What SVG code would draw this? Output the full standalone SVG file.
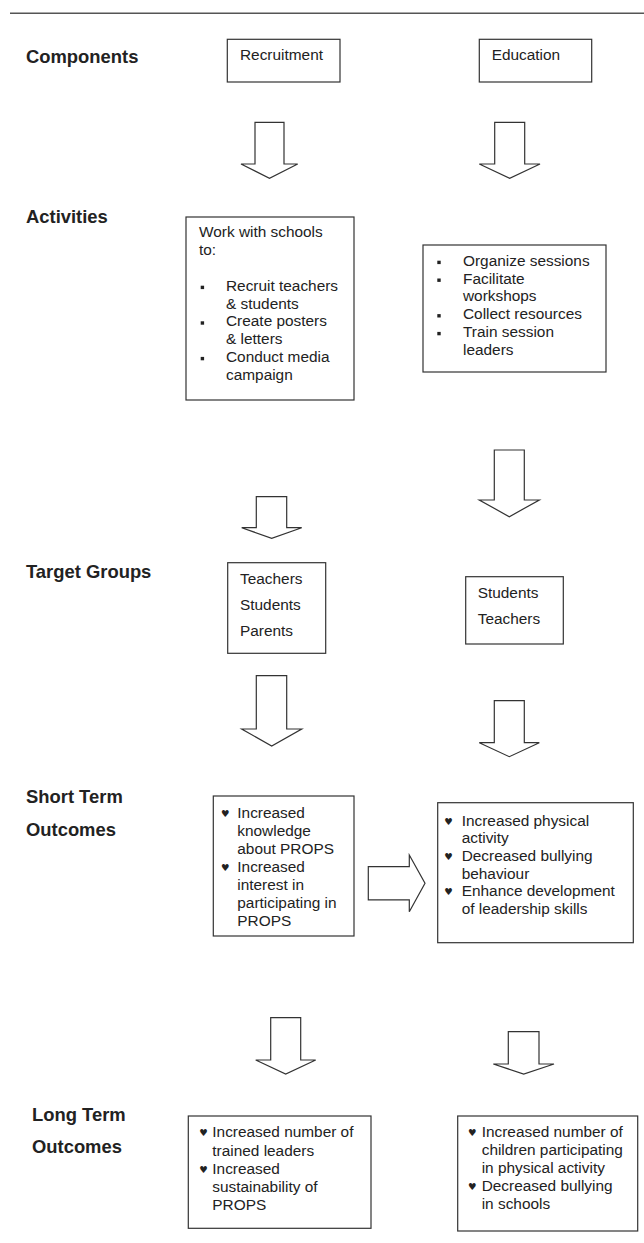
<svg xmlns="http://www.w3.org/2000/svg" width="644" height="1243" viewBox="0 0 644 1243">
<style>
.bg{fill:#fff}
.box{fill:#fff;stroke:#333;stroke-width:1.2}
.arr{fill:#fff;stroke:#333;stroke-width:1.2;stroke-linejoin:miter}
.rule{stroke:#555;stroke-width:1.6}
.lbl{font-family:"Liberation Sans",Arial,sans-serif;font-weight:bold;font-size:18.4px;fill:#222}
.t{font-family:"Liberation Sans",Arial,sans-serif;font-size:15.4px;fill:#222}
.sq{fill:#222}
.hb{font-family:"DejaVu Sans",sans-serif;font-size:9.5px;fill:#222}
</style>
<rect class="bg" x="0" y="0" width="644" height="1243"/>
<line class="rule" x1="10" y1="13.3" x2="644" y2="13.3"/>

<g id="labels">
<text class="lbl" x="26" y="63.3">Components</text>
<text class="lbl" x="26" y="223.3">Activities</text>
<text class="lbl" x="26" y="578.3">Target Groups</text>
<text class="lbl" x="26" y="803.3">Short Term</text>
<text class="lbl" x="26" y="836">Outcomes</text>
<text class="lbl" x="32" y="1120.7">Long Term</text>
<text class="lbl" x="32" y="1152.7">Outcomes</text>
</g>

<g id="connectors">
<polygon class="arr" points="255,122.3 284,122.3 284,164 297.7,164 269.5,178.3 241,164 255,164"/>
<polygon class="arr" points="494.7,122.3 524.7,122.3 524.7,164 540,164 509.7,178.3 479.3,164 494.7,164"/>
<polygon class="arr" points="256.3,496.7 286.7,496.7 286.7,527.7 301.7,527.7 271.7,538.3 241.7,527.7 256.3,527.7"/>
<polygon class="arr" points="494.3,450 524.3,450 524.3,500 539.3,500 509.3,516.7 479.3,500 494.3,500"/>
<polygon class="arr" points="256.3,675.7 286.7,675.7 286.7,729 301.7,729 271.7,746 241.7,729 256.3,729"/>
<polygon class="arr" points="494.3,700.7 524.3,700.7 524.3,742.7 539.3,742.7 509.3,756.7 479.3,742.7 494.3,742.7"/>
<polygon class="arr" points="368.3,866.7 409.3,866.7 409.3,855 425,883.3 409.3,911.7 409.3,899.9 368.3,899.9"/>
<polygon class="arr" points="270.7,1017.7 300.7,1017.7 300.7,1060 315.7,1060 285.7,1074 255.7,1060 270.7,1060"/>
<polygon class="arr" points="508.3,1031.7 539,1031.7 539,1064 554,1064 523.7,1074 493.3,1064 508.3,1064"/>
</g>

<g id="recruitment">
<rect class="box" x="227.3" y="39.3" width="112.7" height="42.7"/>
<text class="t" x="240" y="60">Recruitment</text>
</g>

<g id="education">
<rect class="box" x="479.3" y="39.3" width="112.4" height="42.7"/>
<text class="t" x="491.7" y="60">Education</text>
</g>

<g id="activities-recruitment">
<rect class="box" x="186" y="217" width="168" height="183"/>
<text class="t" x="199" y="236.7">Work with schools</text>
<text class="t" x="199" y="254.7">to:</text>
<rect class="sq" x="200.7" y="285.7" width="3.4" height="3.4"/>
<rect class="sq" x="200.7" y="321.3" width="3.4" height="3.4"/>
<rect class="sq" x="200.7" y="356.9" width="3.4" height="3.4"/>
<text class="t" x="226" y="290.7">Recruit teachers</text>
<text class="t" x="226" y="308.5">&amp; students</text>
<text class="t" x="226" y="326.3">Create posters</text>
<text class="t" x="226" y="344.1">&amp; letters</text>
<text class="t" x="226" y="361.9">Conduct media</text>
<text class="t" x="226" y="379.7">campaign</text>
</g>

<g id="activities-education">
<rect class="box" x="423" y="245" width="183" height="127"/>
<rect class="sq" x="437.3" y="260.7" width="3.4" height="3.4"/>
<rect class="sq" x="437.3" y="278.5" width="3.4" height="3.4"/>
<rect class="sq" x="437.3" y="314.1" width="3.4" height="3.4"/>
<rect class="sq" x="437.3" y="331.9" width="3.4" height="3.4"/>
<text class="t" x="463" y="265.7">Organize sessions</text>
<text class="t" x="463" y="283.5">Facilitate</text>
<text class="t" x="463" y="301.3">workshops</text>
<text class="t" x="463" y="319.1">Collect resources</text>
<text class="t" x="463" y="336.9">Train session</text>
<text class="t" x="463" y="354.7">leaders</text>
</g>

<g id="target-recruitment">
<rect class="box" x="227.7" y="562.7" width="98" height="90.6"/>
<text class="t" x="240" y="584">Teachers</text>
<text class="t" x="240" y="610">Students</text>
<text class="t" x="240" y="636">Parents</text>
</g>

<g id="target-education">
<rect class="box" x="465.7" y="576.7" width="97.6" height="67.3"/>
<text class="t" x="477.7" y="598">Students</text>
<text class="t" x="477.7" y="623.7">Teachers</text>
</g>

<g id="short-recruitment">
<rect class="box" x="213.3" y="796" width="140.7" height="140"/>
<text class="hb" x="221" y="816.7">♥</text>
<text class="hb" x="221" y="870.7">♥</text>
<text class="t" x="237.3" y="817.7">Increased</text>
<text class="t" x="237.3" y="835.7">knowledge</text>
<text class="t" x="237.3" y="853.7">about PROPS</text>
<text class="t" x="237.3" y="871.7">Increased</text>
<text class="t" x="237.3" y="889.7">interest in</text>
<text class="t" x="237.3" y="907.7">participating in</text>
<text class="t" x="237.3" y="925.7">PROPS</text>
</g>

<g id="short-education">
<rect class="box" x="437.7" y="802.7" width="195.6" height="140"/>
<text class="hb" x="444.3" y="824.7">♥</text>
<text class="hb" x="444.3" y="859.9">♥</text>
<text class="hb" x="444.3" y="895.1">♥</text>
<text class="t" x="461.7" y="825.7">Increased physical</text>
<text class="t" x="461.7" y="843.3">activity</text>
<text class="t" x="461.7" y="860.9">Decreased bullying</text>
<text class="t" x="461.7" y="878.5">behaviour</text>
<text class="t" x="461.7" y="896.1">Enhance development</text>
<text class="t" x="461.7" y="913.7">of leadership skills</text>
</g>

<g id="long-recruitment">
<rect class="box" x="188.3" y="1116" width="182.7" height="112.3"/>
<text class="hb" x="199.3" y="1136.3">♥</text>
<text class="hb" x="199.3" y="1172.7">♥</text>
<text class="t" x="212.3" y="1137.3">Increased number of</text>
<text class="t" x="212.3" y="1155.5">trained leaders</text>
<text class="t" x="212.3" y="1173.7">Increased</text>
<text class="t" x="212.3" y="1191.9">sustainability of</text>
<text class="t" x="212.3" y="1210.1">PROPS</text>
</g>

<g id="long-education">
<rect class="box" x="457.7" y="1116" width="180" height="115"/>
<text class="hb" x="468" y="1136.3">♥</text>
<text class="hb" x="468" y="1190">♥</text>
<text class="t" x="481.7" y="1137.3">Increased number of</text>
<text class="t" x="481.7" y="1155.2">children participating</text>
<text class="t" x="481.7" y="1173.1">in physical activity</text>
<text class="t" x="481.7" y="1191">Decreased bullying</text>
<text class="t" x="481.7" y="1208.9">in schools</text>
</g>
</svg>
